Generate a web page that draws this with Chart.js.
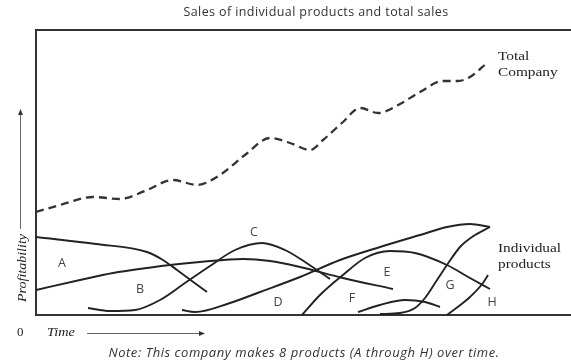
<!DOCTYPE html>
<html>
<head>
<meta charset="utf-8">
<title>Sales of individual products and total sales</title>
<script src="https://cdn.jsdelivr.net/npm/chart.js@4.4.1/dist/chart.umd.min.js"></script>
<style>
  html, body { margin: 0; padding: 0; background: #fff; }
  #wrap { position: relative; width: 571px; height: 364px; overflow: hidden; }
  #chart { position: absolute; left: 0; top: 0; }
  .txt { position: absolute; white-space: nowrap; color: #333; line-height: 1; }
  .sans { font-family: "Open Sans", "Liberation Sans", sans-serif; }
  .serif { font-family: "Liberation Serif", "Times New Roman", serif; color: #222; }
</style>
</head>
<body>
<div id="wrap">
  <canvas id="chart" width="571" height="364"></canvas>
  <div class="txt sans" style="left:316px; top:6px; font-size:12.5px; letter-spacing:0.4px; transform:translateX(-50%)">Sales of individual products and total sales</div>
  <div class="txt serif" style="left:498px; top:48px; font-size:13px; line-height:16px; transform:scaleX(1.18); transform-origin:left">Total<br>Company</div>
  <div class="txt serif" style="left:498px; top:240px; font-size:13px; line-height:16px; transform:scaleX(1.18); transform-origin:left">Individual<br>products</div>
  <div class="txt serif" style="left:21px; top:268px; font-size:13px; font-style:italic; transform:translate(-50%,-50%) rotate(-90deg) scaleX(1.08)">Profitability</div>
  <div class="txt serif" style="left:17px; top:325px; font-size:13px">0</div>
  <div class="txt serif" style="left:47px; top:325px; font-size:13px; font-style:italic; transform:scaleX(1.1); transform-origin:left">Time</div>
  <div class="txt sans" style="left:304px; top:346px; font-size:13px; font-style:italic; letter-spacing:0.55px; transform:translateX(-50%)">Note: This company makes 8 products (A through H) over time.</div>
</div>
<script>
// time runs 0..535, profitability 0..285 (arbitrary units)
const TIME_MAX = 535;
const PROFIT_MAX = 285;

const totalCompany = [[0,103],[24,110],[57,118],[84,116],[109,124],[137,135],[161,130],[184,140],[209,160],[234,177],[254,172],[274,165],[287,175],[307,193],[324,207],[342,202],[364,211],[384,223],[407,234],[422,234],[434,238],[451,252]];

const productA = [[0,78],[60,71],[111,63],[127,55],[141,45],[171,23]];
const productB = [[0,25],[44,35],[77,42],[134,50],[164,53],[207,56],[234,54],[264,48],[307,37],[357,26]];
const productC = [[52,7],[74,4],[99,5],[124,15],[149,32],[174,49],[199,65],[226,72],[249,65],[269,53],[294,36]];
const productD = [[146,5],[159,3],[194,12],[224,23],[264,38],[304,55],[344,68],[384,80],[411,88],[434,91],[454,88]];
const productE = [[266,0],[284,20],[307,40],[329,57],[354,64],[379,62],[411,50],[434,37],[454,26]];
const productF = [[322,3],[344,10],[369,15],[389,13],[404,8]];
const productG = [[344,1],[364,2],[379,7],[389,17],[401,35],[411,50],[424,68],[436,78],[454,88]];
const productH = [[411,0],[423,9],[434,18],[447,32],[452,40]];

const productNames = ["A", "B", "C", "D", "E", "F", "G", "H"];
const nameTime = [26, 104, 218, 242, 351, 316, 414, 456];
const nameProfit = [52, 26, 83, 13, 43, 17, 30, 13];

const products = [productA, productB, productC, productD, productE, productF, productG, productH];

const toPoints = (arr) => arr.map(([x, y]) => ({ x, y }));

const INK = "#222";

// box lines (top, left, bottom) plus the two axis arrows
const framePlugin = {
  id: "frame",
  beforeDatasetsDraw(chart) {
    const { ctx, chartArea: a } = chart;
    ctx.save();
    ctx.strokeStyle = "#333";
    ctx.lineWidth = 2;
    ctx.beginPath();
    ctx.moveTo(chart.width, a.top);
    ctx.lineTo(a.left, a.top);
    ctx.lineTo(a.left, a.bottom);
    ctx.lineTo(chart.width, a.bottom);
    ctx.stroke();

    ctx.strokeStyle = "#666";
    ctx.fillStyle = "#333";
    ctx.lineWidth = 1;
    // profitability arrow
    const ax = a.left - 15.5;
    ctx.beginPath();
    ctx.moveTo(ax, a.top + 199);
    ctx.lineTo(ax, a.top + 84);
    ctx.stroke();
    ctx.beginPath();
    ctx.moveTo(ax, a.top + 79);
    ctx.lineTo(ax - 2.5, a.top + 85);
    ctx.lineTo(ax + 2.5, a.top + 85);
    ctx.closePath();
    ctx.fill();
    // time arrow
    const ay = a.bottom + 18.5;
    ctx.beginPath();
    ctx.moveTo(a.left + 51, ay);
    ctx.lineTo(a.left + 164, ay);
    ctx.stroke();
    ctx.beginPath();
    ctx.moveTo(a.left + 169, ay);
    ctx.lineTo(a.left + 163, ay - 2.5);
    ctx.lineTo(a.left + 163, ay + 2.5);
    ctx.closePath();
    ctx.fill();
    ctx.restore();
  }
};

// product letters placed in data space
const namePlugin = {
  id: "names",
  afterDatasetsDraw(chart) {
    const { ctx, scales: { x, y } } = chart;
    ctx.save();
    ctx.font = '12.5px "Open Sans", sans-serif';
    ctx.fillStyle = "#444";
    ctx.textAlign = "center";
    ctx.textBaseline = "middle";
    productNames.forEach((name, i) => {
      ctx.fillText(name, x.getPixelForValue(nameTime[i]), y.getPixelForValue(nameProfit[i]));
    });
    ctx.restore();
  }
};

const datasets = [{
  label: "Total Company",
  data: toPoints(totalCompany),
  borderColor: "#333",
  borderWidth: 2.3,
  borderDash: [8, 5],
  pointRadius: 0,
  cubicInterpolationMode: "monotone",
  fill: false
}].concat(products.map((p, i) => ({
  label: productNames[i],
  data: toPoints(p),
  borderColor: INK,
  borderWidth: 1.9,
  pointRadius: 0,
  cubicInterpolationMode: "monotone",
  fill: false
})));

new Chart(document.getElementById("chart"), {
  type: "line",
  data: { datasets },
  options: {
    responsive: false,
    animation: false,
    events: [],
    layout: { padding: { left: 36, right: 0, top: 30, bottom: 49 } },
    plugins: {
      legend: { display: false },
      title: { display: false },
      tooltip: { enabled: false }
    },
    scales: {
      x: { type: "linear", min: 0, max: TIME_MAX, display: false },
      y: { type: "linear", min: 0, max: PROFIT_MAX, display: false }
    }
  },
  plugins: [framePlugin, namePlugin]
});
</script>
</body>
</html>
